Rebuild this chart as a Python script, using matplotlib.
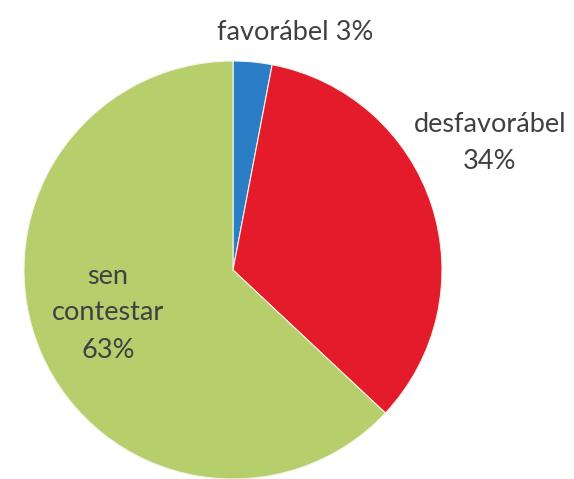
import matplotlib
matplotlib.use("Agg")
import matplotlib.pyplot as plt

labels = ["favorábel", "desfavorábel", "sen\ncontestar"]
values = [3, 34, 63]
colors = ["#2b7ec6", "#e31b2b", "#b6cf6c"]

# label text for each slice (value appended)
texts = ["favorábel 3%", "desfavorábel\n34%", "sen\ncontestar\n63%"]
text_pos = [(295, 447), (490, 336), (108, 166)]

W, H = 574, 479
fig = plt.figure(figsize=(W / 100, H / 100), dpi=100)
ax = fig.add_axes([0, 0, 1, 1])

ax.pie(values, colors=colors, startangle=90, counterclock=False,
       center=(233, 209), radius=209,
       wedgeprops=dict(linewidth=0.8, edgecolor="#f4f4e8"))

for t, (x, y) in zip(texts, text_pos):
    ax.text(x, y, t, ha="center", va="center", fontsize=19.5,
            family="Lato", color="#404040", linespacing=1.6)

ax.set_xlim(0, W)
ax.set_ylim(0, H)
ax.set_aspect("equal")
ax.axis("off")

fig.savefig("out.png", dpi=100)
